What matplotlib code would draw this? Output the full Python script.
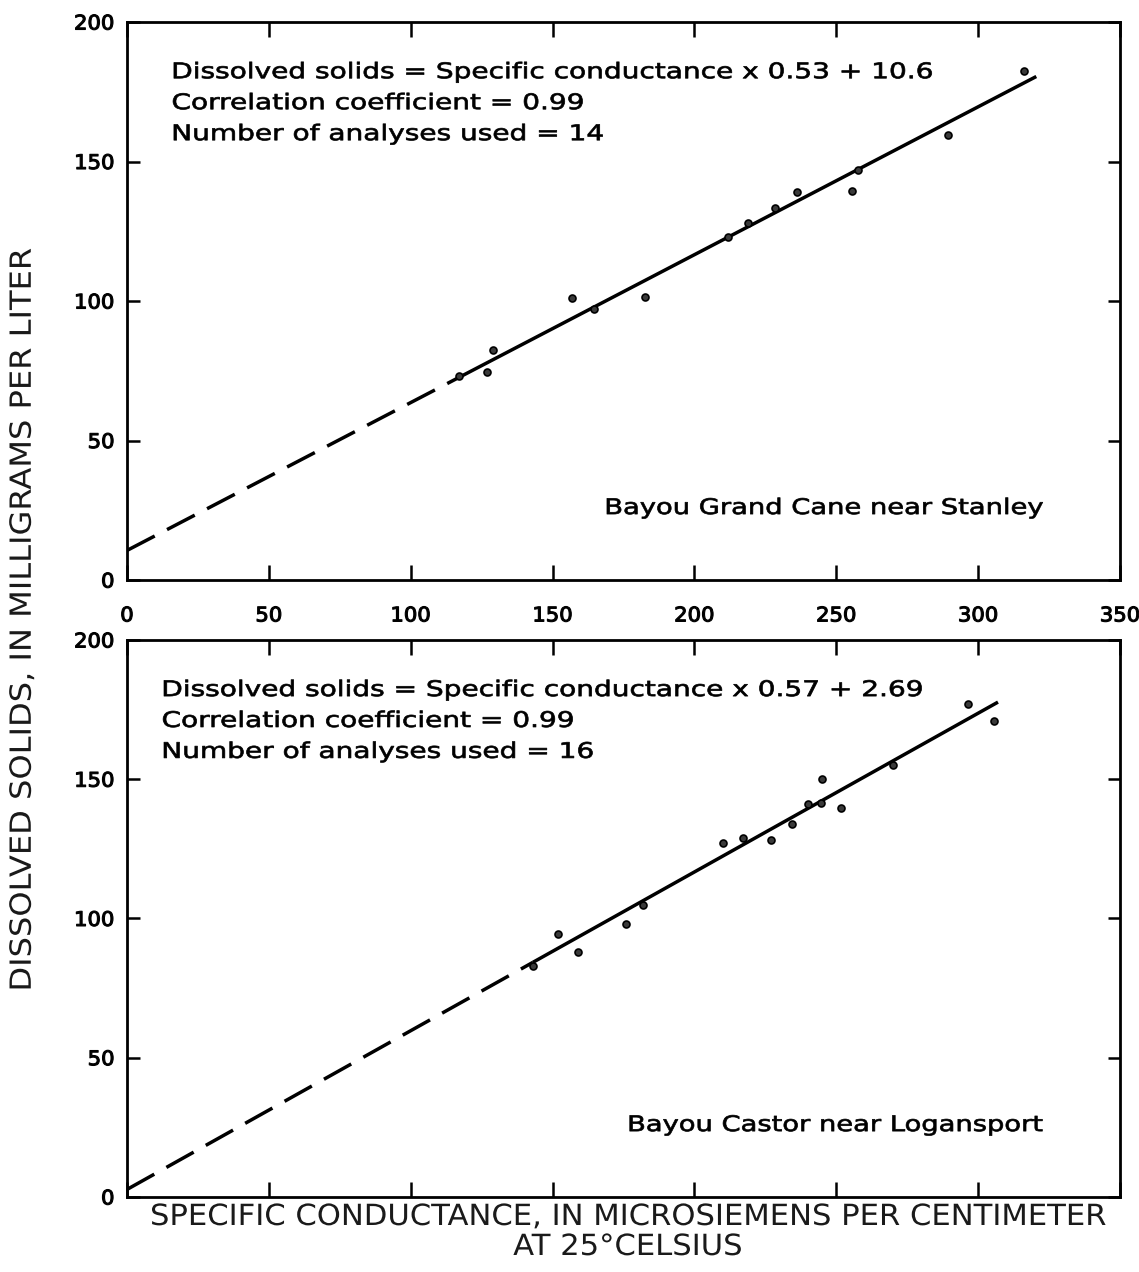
import numpy as np
import matplotlib
matplotlib.use('Agg')
import matplotlib.pyplot as plt
from matplotlib.patheffects import AbstractPathEffect
from matplotlib.transforms import Affine2D

# Bayou Grand Cane near Stanley
cane_sc = [117, 127, 129, 157, 164.5, 182.5, 212, 219, 228.5, 236, 255.5, 257.5, 289.5, 316]
cane_ds = [73, 74.5, 82.5, 101, 97, 101.5, 123, 128, 133.5, 139, 139.5, 147, 159.5, 182.5]
cane_fit = (0.53, 10.6)
cane_solid = (117, 320.5)

# Bayou Castor near Logansport
castor_sc = [143, 152, 159, 176, 182, 210, 217, 227, 234.5, 240, 244.5, 245, 251.5, 270, 296.5, 305.5]
castor_ds = [83, 94.5, 88, 98, 105, 127, 129, 128, 134, 141, 141.5, 150, 139.5, 155, 177, 171]
castor_fit = (0.57, 2.69)
castor_solid = (143, 307)

xticks = [0, 50, 100, 150, 200, 250, 300, 350]
yticks = [0, 50, 100, 150, 200]

FONT = 'DejaVu Sans'


class Widen(AbstractPathEffect):
	'''Stretch text glyphs along the baseline (the original has wide tracking),
	optionally with a thin outline to make them a bit heavier.'''

	def __init__(self, sx=1.3, anchor='left', lw=0.0):
		super().__init__()
		self.sx = sx
		self.anchor = anchor
		self.lw = lw

	def draw_path(self, renderer, gc, tpath, affine, rgbFace=None):
		ext = tpath.get_extents()
		if self.anchor == 'left':
			x0 = ext.x0
		elif self.anchor == 'right':
			x0 = ext.x1
		else:
			x0 = 0.5 * (ext.x0 + ext.x1)
		st = Affine2D().translate(-x0, 0).scale(self.sx, 1).translate(x0, 0)
		gc0 = renderer.new_gc()
		gc0.copy_properties(gc)
		if self.lw > 0:
			gc0.set_linewidth(self.lw)
			gc0.set_foreground('k')
		renderer.draw_path(gc0, tpath, st + affine, rgbFace)
		gc0.restore()


def draw_panel(ax, sc, ds, fit, solid, eq_lines, eq_x, site, show_xlabels):
	'''Scatter, regression line (dashed where extrapolated) and notes.'''
	slope, icpt = fit
	xd = np.array([0, solid[0]])
	xs = np.array([solid[0], solid[1]])
	ax.plot(xd, slope * xd + icpt, color='k', lw=2.5, ls=(0, (9, 4)))
	ax.plot(xs, slope * xs + icpt, color='k', lw=2.5, solid_capstyle='butt')
	ax.plot(sc, ds, ls='none', marker='o', ms=5, mfc='#3a3a3a', mec='k', mew=1.2)
	ax.set_xlim(0, 350)
	ax.set_ylim(0, 200)
	ax.set_xticks(xticks)
	ax.set_yticks(yticks)
	ax.tick_params(direction='in', length=11, width=1.8, top=True, right=True,
		labelsize=14.5, pad=19)
	ax.tick_params(axis='y', length=9, pad=9)
	if not show_xlabels:
		ax.set_xticklabels([])
	for lab in ax.get_xticklabels():
		lab.set_fontfamily(FONT)
		lab.set_path_effects([Widen(1.05, 'center', 0.8)])
	for lab in ax.get_yticklabels():
		lab.set_fontfamily(FONT)
		lab.set_path_effects([Widen(1.05, 'right', 0.8)])
	for sp in ax.spines.values():
		sp.set_linewidth(2)
	for i, line in enumerate(eq_lines):
		ax.text(eq_x, 182 - 11.1 * i, line, fontsize=15.5, family=FONT,
			va='center', ha='left', path_effects=[Widen(1.3, 'left', 0.5)])
	ax.text(323, 25.8, site, fontsize=15.5, family=FONT, va='center', ha='right',
		path_effects=[Widen(1.27, 'right', 0.5)])


fig = plt.figure(figsize=(11.39, 12.72), dpi=100)
ax1 = fig.add_axes([0.1115, 0.544, 0.8718, 0.4387])
ax2 = fig.add_axes([0.1115, 0.059, 0.8718, 0.4379])

draw_panel(ax1, cane_sc, cane_ds, cane_fit, cane_solid,
	['Dissolved solids = Specific conductance x 0.53 + 10.6',
	 'Correlation coefficient = 0.99',
	 'Number of analyses used = 14'],
	15.8, 'Bayou Grand Cane near Stanley', True)
draw_panel(ax2, castor_sc, castor_ds, castor_fit, castor_solid,
	['Dissolved solids = Specific conductance x 0.57 + 2.69',
	 'Correlation coefficient = 0.99',
	 'Number of analyses used = 16'],
	12.3, 'Bayou Castor near Logansport', False)

fig.text(0.02, 0.5126, 'DISSOLVED SOLIDS, IN MILLIGRAMS PER LITER', rotation=90,
	ha='center', va='center', fontsize=21, family=FONT, color='#1a1a1a',
	path_effects=[Widen(1.1, 'center')])
fig.text(0.551, 1 - 1217 / 1272, 'SPECIFIC CONDUCTANCE, IN MICROSIEMENS PER CENTIMETER',
	ha='center', va='center', fontsize=21, family=FONT, color='#1a1a1a',
	path_effects=[Widen(1.05, 'center')])
fig.text(0.551, 1 - 1247 / 1272, 'AT 25\u00b0CELSIUS',
	ha='center', va='center', fontsize=21, family=FONT, color='#1a1a1a',
	path_effects=[Widen(1.05, 'center')])

fig.savefig('out.png', dpi=100)
